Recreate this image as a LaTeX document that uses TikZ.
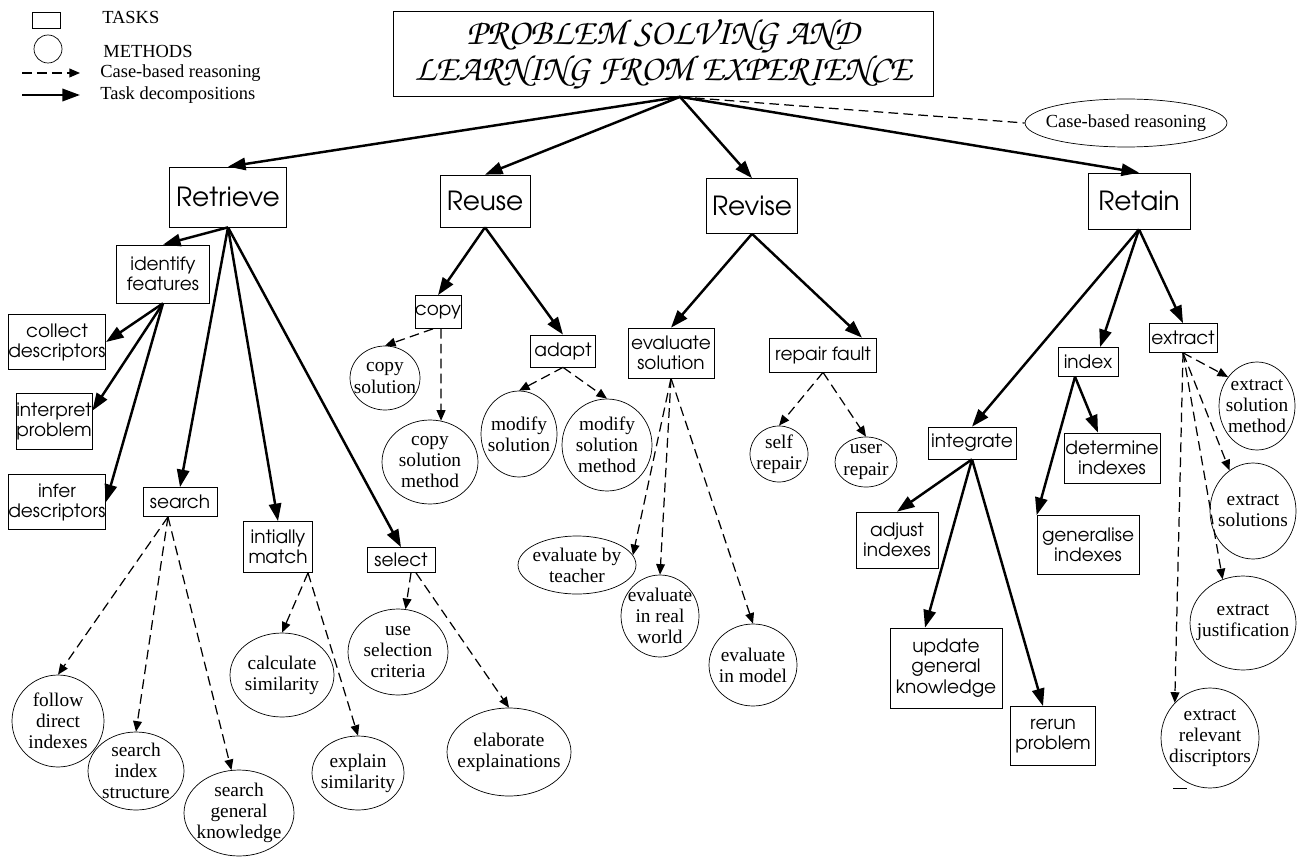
\documentclass[tikz,border=0pt]{standalone}
\usepackage[T1]{fontenc}
\usepackage{fontspec}
\setmainfont{Liberation Serif}
\usepackage{tikz}
\usetikzlibrary{arrows.meta, shapes.geometric}

\newcommand\titlefont{\fontencoding{T1}\fontfamily{pzc}\fontseries{mb}\fontshape{it}\fontsize{20.7}{20.7}\selectfont}
\newcommand\phasefont{\fontencoding{T1}\fontfamily{pag}\fontseries{m}\fontshape{n}\fontsize{15}{17}\selectfont}
\newcommand\taskfont{\fontencoding{T1}\fontfamily{pag}\fontseries{m}\fontshape{n}\fontsize{10.5}{11.5}\selectfont}
\newcommand\methodfont{\fontsize{11}{12}\selectfont}
\newcommand\legendfont{\fontsize{10.5}{11}\selectfont}

\tikzset{
  phase/.style={draw, thin, align=center, inner sep=0pt, font=\phasefont},
  task/.style={draw, thin, align=center, inner sep=0pt, font=\taskfont},
  method/.style={draw, thin, ellipse, align=center, inner sep=-6pt, font=\methodfont},
  decomp/.style={line width=1.4pt, -{Triangle[length=10pt,width=7pt]}},
  cbr/.style={line width=0.7pt, dash pattern=on 5.5pt off 3pt, -{Triangle[length=6pt,width=5pt]}},
}

\begin{document}
\begin{tikzpicture}[x=0.02cm, y=-0.02cm]
    \useasboundingbox (0,0) rectangle (1297,858);

    % Legend
    \draw[thin] (32,12) rectangle (60,28);
    \draw[thin] (48,49) circle (0.28cm);
    \coordinate (ca) at (22,73);
    \coordinate (cb) at (80,73);
    \coordinate (ta) at (22,95);
    \coordinate (tb) at (80,95);
    \draw[cbr] (ca) -- (cb);
    \draw[decomp] (ta) -- (tb);
    \node[anchor=west, font=\legendfont, inner sep=0pt] at (102,17) {TASKS};
    \node[anchor=west, font=\legendfont, inner sep=0pt] at (103,51) {METHODS};
    \node[anchor=west, font=\legendfont, inner sep=0pt] at (100,73) {Case-based reasoning};
    \node[anchor=west, font=\legendfont, inner sep=0pt] at (100,95) {Task decompositions};

    % Title and the four phases
    \node[draw, thin, align=center, minimum width=10.8cm, minimum height=1.7cm, font=\titlefont] (title) at (663,54)
        {PROBLEM SOLVING AND\\LEARNING FROM EXPERIENCE};
    \coordinate (hub) at ([xshift=0.34cm]title.south);
    \node[draw, thin, ellipse, minimum width=3.84cm, minimum height=0.96cm, inner sep=-5pt, font=\legendfont] (cbrnode) at (1126,123) {Case-based reasoning};

    \node[phase, minimum width=2.34cm, minimum height=1.2cm] (retrieve) at (228,197) {Retrieve};
    \node[phase, minimum width=1.8cm, minimum height=1.04cm] (reuse) at (485,201) {Reuse};
    \node[phase, minimum width=1.82cm, minimum height=1.1cm] (revise) at (752,206) {Revise};
    \node[phase, minimum width=2.04cm, minimum height=1.12cm] (retain) at (1139,201) {Retain};

    % Retrieve
    \node[task, minimum width=1.86cm, minimum height=1.16cm] (ident) at (163,274) {identify\\features};
    \node[task, minimum width=1.8cm, minimum height=1.1cm] (collect) at (57,342) {collect\\descriptors};
    \node[task, minimum width=1.52cm, minimum height=1.12cm] (interp) at (54,421) {interpret\\problem};
    \node[task, minimum width=1.82cm, minimum height=1.1cm] (infer) at (57,502) {infer\\descriptors};
    \node[task, minimum width=1.48cm, minimum height=0.58cm] (search) at (180,502) {search};
    \node[task, minimum width=1.38cm, minimum height=1.02cm] (match) at (278,547) {intially\\match};
    \node[task, minimum width=1.36cm, minimum height=0.5cm] (select) at (401,560) {select};

    \node[method, minimum width=1.84cm, minimum height=1.84cm] (follow) at (58,721) {follow\\direct\\indexes};
    \node[method, minimum width=1.92cm, minimum height=1.56cm] (sidx) at (136,771) {search\\index\\structure};
    \node[method, minimum width=2.2cm, minimum height=1.72cm] (sgen) at (239,813) {search\\general\\knowledge};
    \node[method, minimum width=2.08cm, minimum height=1.68cm] (calc) at (282,675) {calculate\\similarity};
    \node[method, minimum width=1.84cm, minimum height=1.48cm] (expl) at (358,773) {explain\\similarity};
    \node[method, minimum width=2.0cm, minimum height=1.72cm] (usesel) at (398,652) {use\\selection\\criteria};
    \node[method, minimum width=2.48cm, minimum height=1.76cm] (elab) at (509,752) {elaborate\\explainations};

    % Reuse
    \node[task, minimum width=0.9cm, minimum height=0.66cm] (copy) at (438,312) {copy};
    \node[task, minimum width=1.3cm, minimum height=0.64cm] (adapt) at (563,351) {adapt};
    \node[method, minimum width=1.4cm, minimum height=1.28cm] (copysol) at (385,378) {copy\\solution};
    \node[method, minimum width=1.92cm, minimum height=1.68cm] (copymeth) at (430,462) {copy\\solution\\method};
    \node[method, minimum width=1.52cm, minimum height=1.72cm] (modsol) at (519,434) {modify\\solution};
    \node[method, minimum width=1.8cm, minimum height=1.84cm] (modmeth) at (607,445) {modify\\solution\\method};

    % Revise
    \node[task, minimum width=1.72cm, minimum height=1.0cm] (evalsol) at (671,353) {evaluate\\solution};
    \node[task, minimum width=2.14cm, minimum height=0.68cm] (repair) at (823,355) {repair fault};
    \node[method, minimum width=1.16cm, minimum height=1.12cm] (selfrep) at (779,454) {self\\repair};
    \node[method, minimum width=1.24cm, minimum height=1.0cm] (userrep) at (866,462) {user\\repair};
    \node[method, minimum width=2.36cm, minimum height=1.16cm] (teacher) at (577,565) {evaluate by\\teacher};
    \node[method, minimum width=1.56cm, minimum height=1.64cm] (realw) at (660,616) {evaluate\\in real\\world};
    \node[method, minimum width=1.76cm, minimum height=1.64cm] (model) at (753,665) {evaluate\\in model};

    % Retain
    \node[task, minimum width=1.76cm, minimum height=0.64cm] (integ) at (972,443) {integrate};
    \node[task, minimum width=1.2cm, minimum height=0.58cm] (index) at (1088,362) {index};
    \node[task, minimum width=1.36cm, minimum height=0.58cm] (extract) at (1183,338) {extract};
    \node[task, minimum width=1.92cm, minimum height=1.0cm] (determ) at (1112,458) {determine\\indexes};
    \node[task, minimum width=2.04cm, minimum height=1.18cm] (gener) at (1088,545) {generalise\\indexes};
    \node[task, minimum width=1.64cm, minimum height=1.12cm] (adjust) at (897,540) {adjust\\indexes};
    \node[task, minimum width=2.24cm, minimum height=1.6cm] (update) at (946,668) {update\\general\\knowledge};
    \node[task, minimum width=1.7cm, minimum height=1.18cm] (rerun) at (1053,736) {rerun\\problem};
    \node[method, minimum width=1.52cm, minimum height=1.76cm] (exsm) at (1257,406) {extract\\solution\\method};
    \node[method, minimum width=1.72cm, minimum height=1.92cm] (exsols) at (1253,511) {extract\\solutions};
    \node[method, minimum width=2.12cm, minimum height=1.88cm] (exjust) at (1243,623) {extract\\justification};
    \node[method, minimum width=1.96cm, minimum height=2.0cm] (exrel) at (1210,738) {extract\\relevant\\discriptors};
    \draw[thin] (1173,788) -- (1187,788);

    % Task decompositions
    \draw[decomp] (hub) -- (retrieve.north);
    \draw[decomp] (hub) -- (reuse.north);
    \draw[decomp] (hub) -- (revise.north);
    \draw[decomp] (hub) -- (retain.north);
    \draw[line width=0.7pt, dash pattern=on 5.5pt off 3pt] (hub) -- (cbrnode.west);

    \draw[decomp] (retrieve.south) -- (ident.north);
    \draw[decomp] (retrieve.south) -- (search.north);
    \draw[decomp] (retrieve.south) -- (match.north);
    \draw[decomp] (retrieve.south) -- (select.north);
    \draw[decomp] (ident.south) -- (collect.east);
    \draw[decomp] (ident.south) -- (interp.15);
    \draw[decomp] (ident.south) -- (infer.east);

    \draw[decomp] (reuse.south) -- (copy.north);
    \draw[decomp] (reuse.south) -- (adapt.north);
    \draw[decomp] (revise.south) -- (evalsol.north);
    \draw[decomp] (revise.south) -- ([xshift=0.78cm]repair.north);

    \draw[decomp] (retain.south) -- (integ.north);
    \draw[decomp] (retain.south) -- ([xshift=0.24cm]index.north);
    \draw[decomp] (retain.south) -- (extract.north);
    \draw[decomp] ([xshift=-0.26cm]index.south) -- ([xshift=-0.28cm]determ.north);
    \draw[decomp] ([xshift=-0.26cm]index.south) -- (gener.north west);
    \draw[decomp] (integ.south) -- (adjust.north);
    \draw[decomp] (integ.south) -- ([xshift=-0.42cm]update.north);
    \draw[decomp] (integ.south) -- ([xshift=-0.2cm]rerun.north);

    % Case-based reasoning methods
    \draw[cbr] ([xshift=-0.24cm]search.south) -- (follow.north);
    \draw[cbr] ([xshift=-0.24cm]search.south) -- (sidx.north);
    \draw[cbr] ([xshift=-0.24cm]search.south) -- (sgen.100);
    \draw[cbr] ([xshift=0.6cm]match.south) -- (calc.north);
    \draw[cbr] ([xshift=0.6cm]match.south) -- (expl.north);
    \draw[cbr] ([xshift=0.2cm]select.south) -- (usesel.80);
    \draw[cbr] ([xshift=0.3cm]select.south) -- (elab.north);

    \draw[cbr] ([xshift=-0.1cm]copy.south) -- (copysol.north);
    \draw[cbr] ([xshift=0.06cm]copy.south) -- (copymeth.75);
    \draw[cbr] (adapt.south) -- (modsol.north);
    \draw[cbr] (adapt.south) -- (modmeth.north);

    \draw[cbr] (evalsol.south) -- (teacher.10);
    \draw[cbr] (evalsol.south) -- (realw.north);
    \draw[cbr] (evalsol.south) -- (model.north);
    \draw[cbr] (repair.south) -- (selfrep.north);
    \draw[cbr] (repair.south) -- (userrep.north);

    \draw[cbr] (extract.south) -- (exsm.135);
    \draw[cbr] (extract.south) -- (exsols.120);
    \draw[cbr] (extract.south) -- (exjust.115);
    \draw[cbr] (extract.south) -- (exrel.135);
\end{tikzpicture}
\end{document}
